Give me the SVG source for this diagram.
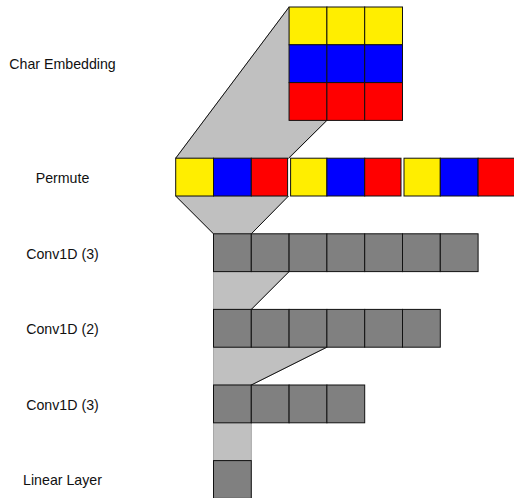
<svg xmlns="http://www.w3.org/2000/svg" width="514" height="498" viewBox="0 0 514 498">
<style>
.y{fill:#ffee00;stroke:#111;stroke-width:1}
.b{fill:#0000ff;stroke:#111;stroke-width:1}
.r{fill:#ff0000;stroke:#111;stroke-width:1}
.g{fill:#808080;stroke:#111;stroke-width:1}
.f{fill:#c0c0c0;stroke:#9a9a9a;stroke-width:0.8}
.d{stroke:#111;stroke-width:1;fill:none}
.t{font-family:"Liberation Sans",Arial,sans-serif;font-size:14.2px;fill:#111;text-anchor:middle}
</style>
<rect width="514" height="498" fill="#fff"/>
<g id="connectors">
<polygon class="f" points="289.1,7 175.7,158.2 289.1,158.2 326.9,120.4 289.1,120.4"/>
<line class="d" x1="289.1" y1="7" x2="175.7" y2="158.2"/>
<line class="d" x1="326.9" y1="120.4" x2="288.6" y2="158.2"/>
<polygon class="f" points="175.7,196 287.8,196 251.3,233.8 213.5,233.8"/>
<line class="d" x1="175.7" y1="196" x2="213.5" y2="233.8"/>
<line class="d" x1="288.6" y1="196" x2="251.3" y2="233.8"/>
<polygon class="f" points="213.5,271.6 289.1,271.6 251.3,309.4 213.5,309.4"/>
<line class="d" x1="289.1" y1="271.6" x2="251.3" y2="309.4"/>
<polygon class="f" points="213.5,347.2 326.9,347.2 251.3,385 213.5,385"/>
<line class="d" x1="326.9" y1="347.2" x2="251.3" y2="385"/>
<rect class="f" x="213.5" y="422.8" width="37.8" height="37.8"/>
</g>
<g id="char-embedding">
<text class="t" x="62.5" y="69">Char Embedding</text>
<rect class="y" x="289.1" y="7" width="37.8" height="37.8"/>
<rect class="y" x="326.9" y="7" width="37.8" height="37.8"/>
<rect class="y" x="364.7" y="7" width="37.8" height="37.8"/>
<rect class="b" x="289.1" y="44.8" width="37.8" height="37.8"/>
<rect class="b" x="326.9" y="44.8" width="37.8" height="37.8"/>
<rect class="b" x="364.7" y="44.8" width="37.8" height="37.8"/>
<rect class="r" x="289.1" y="82.6" width="37.8" height="37.8"/>
<rect class="r" x="326.9" y="82.6" width="37.8" height="37.8"/>
<rect class="r" x="364.7" y="82.6" width="37.8" height="37.8"/>
</g>
<g id="permute">
<text class="t" x="62.5" y="183.3">Permute</text>
<rect class="y" x="175.7" y="158.2" width="37.8" height="37.8"/>
<rect class="b" x="213.5" y="158.2" width="37.8" height="37.8"/>
<rect class="r" x="251.3" y="158.2" width="36.3" height="37.8"/>
<rect class="y" x="290.6" y="158.2" width="36.3" height="37.8"/>
<rect class="b" x="326.9" y="158.2" width="37.8" height="37.8"/>
<rect class="r" x="364.7" y="158.2" width="36.3" height="37.8"/>
<rect class="y" x="404" y="158.2" width="36.3" height="37.8"/>
<rect class="b" x="440.3" y="158.2" width="37.8" height="37.8"/>
<rect class="r" x="478.1" y="158.2" width="37.8" height="37.8"/>
</g>
<g id="conv1d-3a">
<text class="t" x="62.5" y="258.8">Conv1D (3)</text>
<rect class="g" x="213.5" y="233.8" width="37.8" height="37.8"/>
<rect class="g" x="251.3" y="233.8" width="37.8" height="37.8"/>
<rect class="g" x="289.1" y="233.8" width="37.8" height="37.8"/>
<rect class="g" x="326.9" y="233.8" width="37.8" height="37.8"/>
<rect class="g" x="364.7" y="233.8" width="37.8" height="37.8"/>
<rect class="g" x="402.5" y="233.8" width="37.8" height="37.8"/>
<rect class="g" x="440.3" y="233.8" width="37.8" height="37.8"/>
</g>
<g id="conv1d-2">
<text class="t" x="62.5" y="334.2">Conv1D (2)</text>
<rect class="g" x="213.5" y="309.4" width="37.8" height="37.8"/>
<rect class="g" x="251.3" y="309.4" width="37.8" height="37.8"/>
<rect class="g" x="289.1" y="309.4" width="37.8" height="37.8"/>
<rect class="g" x="326.9" y="309.4" width="37.8" height="37.8"/>
<rect class="g" x="364.7" y="309.4" width="37.8" height="37.8"/>
<rect class="g" x="402.5" y="309.4" width="37.8" height="37.8"/>
</g>
<g id="conv1d-3b">
<text class="t" x="62.5" y="409.6">Conv1D (3)</text>
<rect class="g" x="213.5" y="385" width="37.8" height="37.8"/>
<rect class="g" x="251.3" y="385" width="37.8" height="37.8"/>
<rect class="g" x="289.1" y="385" width="37.8" height="37.8"/>
<rect class="g" x="326.9" y="385" width="37.8" height="37.8"/>
</g>
<g id="linear-layer">
<text class="t" x="62.5" y="485.2">Linear Layer</text>
<rect class="g" x="213.5" y="460.6" width="37.8" height="37.8"/>
</g>
</svg>
